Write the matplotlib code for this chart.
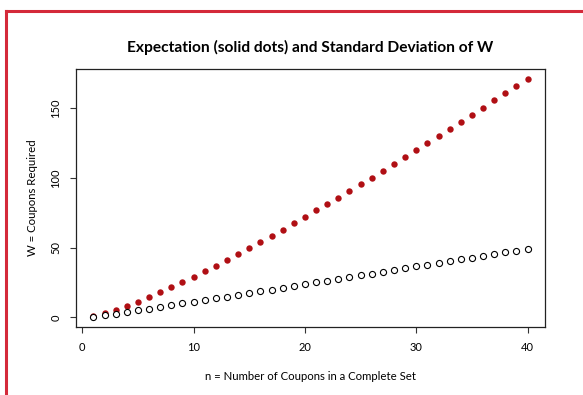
import matplotlib
matplotlib.use("Agg")
import matplotlib.pyplot as plt
from matplotlib.lines import Line2D

# coupon collector: n = 1..40
n_coupons = list(range(1, 41))
expectation = [1.0, 3.0, 5.5, 8.3, 11.4, 14.7, 18.2, 21.7, 25.5, 29.3,
               33.2, 37.2, 41.3, 45.5, 49.8, 54.1, 58.5, 62.9, 67.4, 72.0,
               76.6, 81.2, 85.9, 90.6, 95.4, 100.2, 105.1, 110.0, 114.9, 119.8,
               124.8, 129.9, 134.9, 140.0, 145.1, 150.3, 155.5, 160.7, 165.9, 171.1]
std_dev = [0.0, 1.4, 2.6, 3.8, 5.0, 6.2, 7.5, 8.7, 10.0, 11.2,
           12.5, 13.7, 15.0, 16.2, 17.5, 18.7, 20.0, 21.3, 22.5, 23.8,
           25.1, 26.3, 27.6, 28.9, 30.1, 31.4, 32.7, 33.9, 35.2, 36.5,
           37.8, 39.0, 40.3, 41.6, 42.8, 44.1, 45.4, 46.7, 47.9, 49.2]
x_ticks = [0, 10, 20, 30, 40]
y_ticks = [0, 50, 100, 150]

plt.rcParams['font.family'] = ['Lato', 'DejaVu Sans']

fig = plt.figure(figsize=(5.83, 3.95), dpi=100)
ax = fig.add_axes([76 / 583, 1 - 327 / 395, (545 - 76) / 583, (327 - 69) / 395])

ax.plot(n_coupons, expectation, 'o', color='#b00f14', markersize=4.6, markeredgewidth=0)
ax.plot(n_coupons, std_dev, 'o', markerfacecolor='white', markeredgecolor='black',
        markersize=4.4, markeredgewidth=0.8)

# R style 4% padding
xr = max(n_coupons) - min(n_coupons)
ax.set_xlim(min(n_coupons) - 0.04 * xr, max(n_coupons) + 0.04 * xr)
yr = max(expectation) - min(std_dev)
ax.set_ylim(min(std_dev) - 0.04 * yr, max(expectation) + 0.04 * yr)

ax.set_xticks(x_ticks)
ax.set_yticks(y_ticks)
ax.set_xticklabels([str(t) for t in x_ticks], fontsize=8)
ax.set_yticklabels([str(t) for t in y_ticks], fontsize=8, rotation=90, va='center')
ax.tick_params(direction='out', length=4.5, width=0.8, color='#333333', pad=6)
for s in ax.spines.values():
    s.set_linewidth(0.9)
    s.set_color('#222222')

ax.set_title('Expectation (solid dots) and Standard Deviation of W',
             fontsize=11.2, fontweight='bold', pad=12)
ax.set_xlabel('n = Number of Coupons in a Complete Set', fontsize=8.2, labelpad=13)
ax.set_ylabel('W = Coupons Required', fontsize=8.2, labelpad=9)

# red frame on left and top
red = '#d42a3a'
fig.add_artist(Line2D([5.5 / 583, 5.5 / 583], [0, 1 - 10.5 / 395], color=red, lw=2.2,
                      transform=fig.transFigure))
fig.add_artist(Line2D([5.5 / 583, 1], [1 - 10.5 / 395, 1 - 10.5 / 395], color=red, lw=2.2,
                      transform=fig.transFigure))

fig.savefig('out.png', dpi=100)
